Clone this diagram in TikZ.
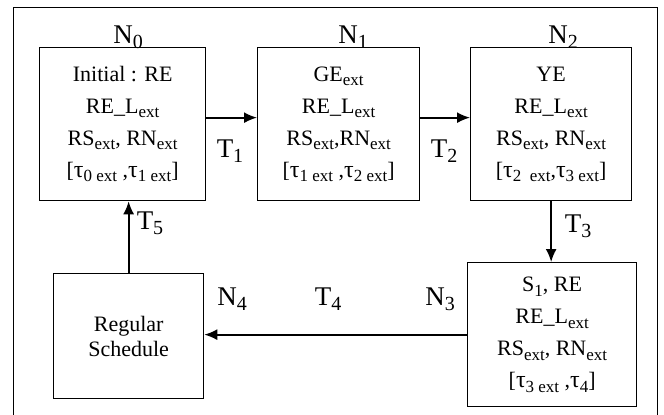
\documentclass[tikz,border=0pt]{standalone}
\usepackage{fontspec}
\setmainfont{Liberation Serif}
\usetikzlibrary{arrows.meta}
\newcommand\sbx[1]{\raisebox{-0.2em}{\fontsize{17pt}{17pt}\selectfont #1}}
\newcommand\lsub[1]{\raisebox{-0.2em}{\fontsize{20pt}{20pt}\selectfont #1}}
\newcommand\tu{{\fontsize{24pt}{24pt}\selectfont τ}}
\begin{document}
\begin{tikzpicture}[x=1pt,y=-1pt,
 box/.style={draw, line width=1.3pt, anchor=north west, align=center, inner sep=0pt, font=\fontsize{22pt}{32pt}\selectfont},
 lbl/.style={anchor=base, font=\fontsize{27pt}{27pt}\selectfont, inner sep=0pt},
 arr/.style={line width=1.8pt, -{Latex[length=13pt,width=11pt]}}]
\useasboundingbox (0,0) rectangle (664,415);
\draw[line width=1pt] (13,420) -- (13,7) -- (657,7) -- (657,420);
\node[box, minimum width=166pt, minimum height=153pt] (n0) at (39,47) {Initial : RE\\RE\_L\sbx{ext}\\RS\sbx{ext}, RN\sbx{ext}\\{[}\tu\sbx{0 ext} ,\tu\sbx{1 ext}{]}};
\node[box, minimum width=162pt, minimum height=153pt] (n1) at (257,47) {GE\sbx{ext}\\RE\_L\sbx{ext}\\RS\sbx{ext},RN\sbx{ext}\\{[}\tu\sbx{1 ext} ,\tu\sbx{2 ext}{]}};
\node[box, minimum width=161pt, minimum height=153pt] (n2) at (470,47) {YE\\RE\_L\sbx{ext}\\RS\sbx{ext}, RN\sbx{ext}\\{[}\tu\sbx{2 \ ext},\tu\sbx{3 ext}{]}};
\node[box, minimum width=169pt, minimum height=144pt] (n3) at (467,262) {S\sbx{1}, RE\\RE\_L\sbx{ext}\\RS\sbx{ext}, RN\sbx{ext}\\{[}\tu\sbx{3 ext} ,\tu\sbx{4}{]}};
\node[box, minimum width=150pt, minimum height=125pt, font=\fontsize{22pt}{25pt}\selectfont] (n4) at (53,273) {Regular\\Schedule};
\draw[arr] ([yshift=6.5pt]n0.east) -- ([yshift=6.5pt]n1.west);
\draw[arr] ([yshift=6.5pt]n1.east) -- ([yshift=6.5pt]n2.west);
\draw[arr] (n2.south) -- (n2.south |- n3.north);
\draw[arr] (n3.west) -- (n3.west -| n4.east);
\draw[arr] (n4.north) -- (n4.north |- n0.south);
\node[lbl] (l0) at (128,43) {N\lsub{0}};
\node[lbl] (l1) at (353,43) {N\lsub{1}};
\node[lbl] (l2) at (563,43) {N\lsub{2}};
\node[lbl] (t1) at (230,157) {T\lsub{1}};
\node[lbl] (t2) at (444,157) {T\lsub{2}};
\node[lbl] (t3) at (578,232) {T\lsub{3}};
\node[lbl] (l3) at (440,305) {N\lsub{3}};
\node[lbl] (l4) at (232,305) {N\lsub{4}};
\node[lbl] (t4) at (328,305) {T\lsub{4}};
\node[lbl] (t5) at (150,229) {T\lsub{5}};
\end{tikzpicture}
\end{document}
